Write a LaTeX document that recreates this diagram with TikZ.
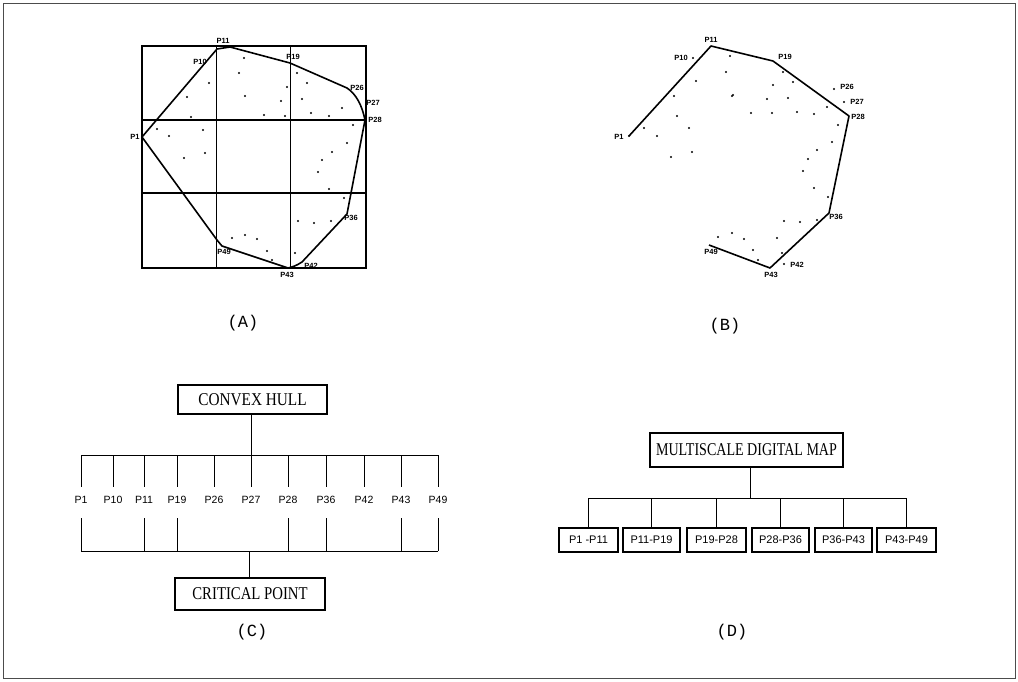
\documentclass[tikz,border=0pt]{standalone}
\usepackage{fontspec}
\setmainfont{Liberation Serif}
\newfontfamily\labfont{Liberation Sans}
\newfontfamily\capfont{Liberation Mono}
\begin{document}
\begin{tikzpicture}[x=1pt,y=-1pt,
  pt/.style={font=\labfont\bfseries\fontsize{7.5}{7.5}\selectfont, inner sep=0pt},
  dot/.style={fill=black},
  hull/.style={line width=1.6pt, line join=round},
  grid/.style={line width=1.1pt},
  thin grid/.style={line width=0.8pt},
  tree/.style={line width=1pt},
  bigbox/.style={draw, line width=1.1pt, inner sep=0pt, font=\fontsize{18}{18}\selectfont},
  clab/.style={font=\labfont\fontsize{10.5}{10.5}\selectfont, inner sep=0pt},
  smallbox/.style={draw, line width=1.1pt, inner sep=0pt, minimum height=24pt, font=\labfont\fontsize{11}{11}\selectfont},
  caption/.style={font=\capfont\fontsize{17}{17}\selectfont, inner sep=0pt}
]
\useasboundingbox (0,0) rectangle (1018,681);
\draw[line width=1pt, black!70] (3,3) rectangle (1015,678);

%%%%%%%%%%%%%%%% Panel A
\draw[grid] (142,46) rectangle (366,268);
\draw[thin grid] (216,46) -- (216,268) (290,46) -- (290,268);
\draw[grid] (142,120) -- (366,120) (142,193) -- (366,193);
\draw[hull] (142,137) -- (217,49) -- (230,47) -- (290,63) -- (347,88)
  .. controls (356,94) and (362,105) .. (365,120) -- (347,214) -- (302,262)
  .. controls (296,266) and (292,267) .. (288,268) -- (222,246) -- (217,240) -- cycle;
\foreach \p in {(244,58),(239,73),(245,96),(209,83),(187,97),(191,117),(157,129),(169,136),
  (203,130),(184,158),(205,153),(297,73),(287,87),(307,83),(281,101),(302,99),(264,115),
  (285,116),(311,113),(329,116),(342,108),(353,125),(347,143),(332,152),(322,160),(318,172),
  (329,189),(344,198),(298,221),(314,223),(331,221),(257,239),(267,251),(272,260),(295,253),
  (232,238),(245,235)}
  \fill[dot] \p circle[radius=1.1pt];
\node[pt] (aP1) at (135,137) {P1};
\node[pt] (aP10) at (200,62) {P10};
\node[pt] (aP11) at (223,41) {P11};
\node[pt] (aP19) at (293,57) {P19};
\node[pt] (aP26) at (357,88) {P26};
\node[pt] (aP27) at (373,103) {P27};
\node[pt] (aP28) at (375,120) {P28};
\node[pt] (aP36) at (351,218) {P36};
\node[pt] (aP42) at (311,266) {P42};
\node[pt] (aP43) at (287,275) {P43};
\node[pt] (aP49) at (224,252) {P49};
\node[caption] (capA) at (243,323) {(A)};

%%%%%%%%%%%%%%%% Panel B
\draw[hull] (629,136) -- (711,46) -- (773,61) -- (849,116) -- (829,213) -- (770,268) -- (709,245);
\foreach \p in {(629,136),(693,58),(730,56),(726,72),(732,96),(696,81),(674,96),(677,116),(689,128),
  (644,128),(657,136),(671,157),(692,152),(783,72),(773,85),(793,82),(733,95),(767,99),(788,98),
  (751,113),(772,113),(797,112),(814,114),(827,107),(838,125),(832,142),(817,150),(808,159),
  (803,171),(814,188),(828,197),(784,221),(800,222),(817,220),(718,237),(732,233),(744,239),
  (777,238),(753,250),(782,253),(758,260),(834,89),(844,102),(784,264)}
  \fill[dot] \p circle[radius=1.1pt];
\node[pt] (bP1) at (619,137) {P1};
\node[pt] (bP10) at (681,58) {P10};
\node[pt] (bP11) at (711,40) {P11};
\node[pt] (bP19) at (785,57) {P19};
\node[pt] (bP26) at (847,87) {P26};
\node[pt] (bP27) at (857,102) {P27};
\node[pt] (bP28) at (858,117) {P28};
\node[pt] (bP36) at (836,217) {P36};
\node[pt] (bP42) at (797,265) {P42};
\node[pt] (bP43) at (771,275) {P43};
\node[pt] (bP49) at (711,252) {P49};
\node[caption] (capB) at (725,326) {(B)};

%%%%%%%%%%%%%%%% Panel C
\node[bigbox, minimum width=149pt, minimum height=29pt] (ch) at (252.5,399.5) {\scalebox{0.85}[1]{CONVEX HULL}};
\node[bigbox, minimum width=150pt, minimum height=32pt] (cp) at (250,594) {\scalebox{0.82}[1]{CRITICAL POINT}};
\coordinate (ctopbar) at (0,455);
\coordinate (ctoptick) at (0,487);
\coordinate (cbottick) at (0,518);
\coordinate (cbotbar) at (0,551);
\foreach \x/\n/\b in {81/P1/1,113/P10/0,144/P11/1,177/P19/1,214/P26/0,251/P27/0,288/P28/1,326/P36/1,364/P42/0,401/P43/1,438/P49/1}{
  \node[clab] (c\n) at (\x,500) {\n};
  \draw[tree] (c\n |- ctopbar) -- (c\n |- ctoptick);
  \ifnum\b=1 \draw[tree] (c\n |- cbottick) -- (c\n |- cbotbar); \fi
}
\draw[tree] (cP1 |- ctopbar) -- (cP49 |- ctopbar);
\draw[tree] (cP1 |- cbotbar) -- (cP49 |- cbotbar);
\draw[tree] (ch.south -| cP27) -- (cP27 |- ctopbar);
\coordinate (cj) at (249,551);
\draw[tree] (cj) -- (cj |- cp.north);
\node[caption] (capC) at (252,632) {(C)};

%%%%%%%%%%%%%%%% Panel D
\node[bigbox, minimum width=193pt, minimum height=34pt] (mdm) at (746.5,450) {\scalebox{0.78}[1]{MULTISCALE DIGITAL MAP}};
\node[smallbox, minimum width=59pt] (d1) at (588.5,540) {P1 -P11};
\node[smallbox, minimum width=57pt] (d2) at (651.5,540) {P11-P19};
\node[smallbox, minimum width=59pt] (d3) at (716.5,540) {P19-P28};
\node[smallbox, minimum width=57pt] (d4) at (780.5,540) {P28-P36};
\node[smallbox, minimum width=57pt] (d5) at (843.5,540) {P36-P43};
\node[smallbox, minimum width=59pt] (d6) at (906.5,540) {P43-P49};
\coordinate (dj) at (750,498);
\draw[tree] (dj |- mdm.south) -- (dj);
\draw[tree] (d1.north |- dj) -- (d6.north |- dj);
\foreach \i in {1,...,6} \draw[tree] (d\i.north |- dj) -- (d\i.north);
\node[caption] (capD) at (732,632) {(D)};
\end{tikzpicture}
\end{document}
